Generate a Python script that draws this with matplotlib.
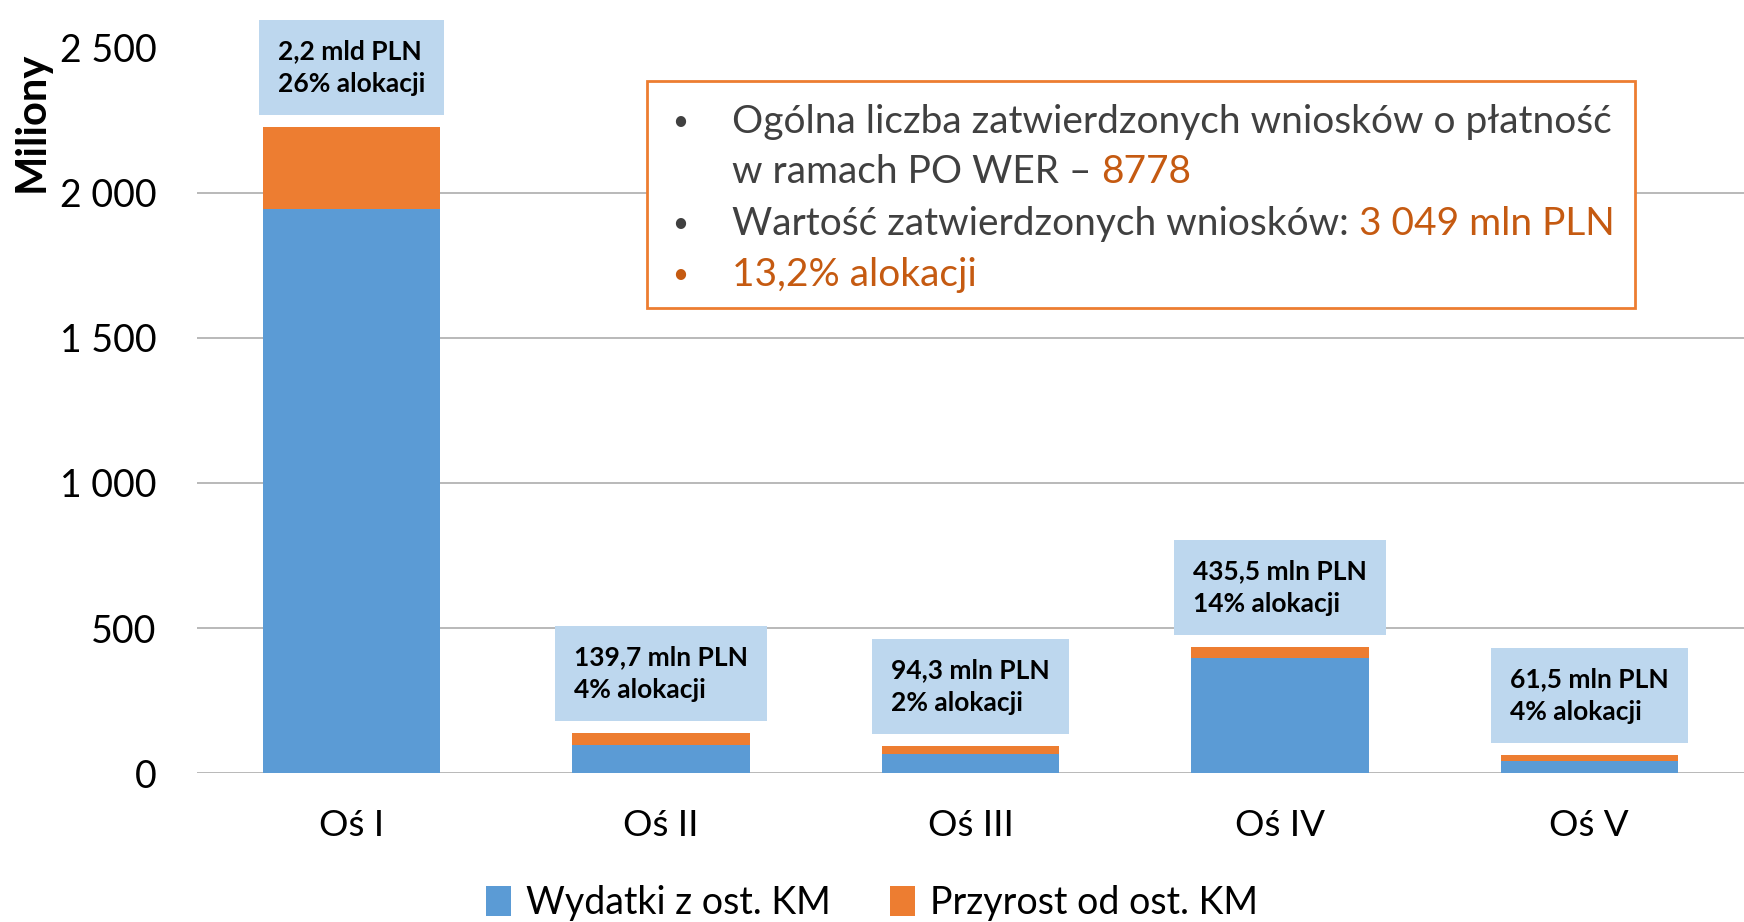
import matplotlib
matplotlib.use("Agg")
import matplotlib.pyplot as plt
from matplotlib.patches import Rectangle

plt.rcParams["font.family"] = ["Lato", "DejaVu Sans"]

# data (millions PLN)
categories = ["Oś I", "Oś II", "Oś III", "Oś IV", "Oś V"]
wydatki = [1944, 97, 68, 398, 41]
przyrost = [282, 43, 26, 38, 21]
box_labels = [
    "2,2 mld PLN\n26% alokacji",
    "139,7 mln PLN\n4% alokacji",
    "94,3 mln PLN\n2% alokacji",
    "435,5 mln PLN\n14% alokacji",
    "61,5 mln PLN\n4% alokacji",
]
y_ticks = [0, 500, 1000, 1500, 2000, 2500]
y_tick_labels = ["0", "500", "1 000", "1 500", "2 000", "2 500"]
series_names = ["Wydatki z ost. KM", "Przyrost od ost. KM"]

BLUE = "#5B9BD5"
ORANGE = "#ED7D31"
DARK_ORANGE = "#C55A11"
BOX_FILL = "#BDD7EE"
TEXT_GRAY = "#404040"

W, H = 1744, 922
fig = plt.figure(figsize=(W / 100, H / 100), dpi=100)
ax = fig.add_axes([197 / W, 1 - 773.3 / H, 1 - 197 / W, (773.3 - 47.5) / H])

x = list(range(len(categories)))
totals = [a + b for a, b in zip(wydatki, przyrost)]
b1 = ax.bar(x, wydatki, width=0.573, color=BLUE, label=series_names[0], zorder=2)
b2 = ax.bar(x, przyrost, bottom=wydatki, width=0.573, color=ORANGE,
            label=series_names[1], zorder=2)

ax.set_xlim(-0.5, 4.5)
ax.set_ylim(0, 2500)
ax.set_yticks(y_ticks)
ax.set_yticklabels(y_tick_labels)
ax.set_xticks(x)
ax.set_xticklabels(categories)
ax.tick_params(axis="y", length=0, pad=29, labelsize=27)
ax.tick_params(axis="x", length=0, pad=26, labelsize=26.5)
ax.yaxis.grid(True, color="#ADADAD", linewidth=1.2, zorder=0)
ax.set_axisbelow(True)
for s in ax.spines.values():
    s.set_visible(False)

ax.set_ylabel("Miliony", fontsize=30, fontweight="bold", va="center")
ax.yaxis.set_label_coords(-0.107, 0.897)

# value boxes above bars
for xi, tot, lab in zip(x, totals, box_labels):
    ax.annotate(lab, xy=(xi, tot), xytext=(0, 31), textcoords="offset pixels",
                ha="center", va="bottom", multialignment="left",
                fontsize=19, fontweight="bold", color="black", linespacing=1.45,
                bbox=dict(boxstyle="square,pad=0.72", fc=BOX_FILL, ec="none"),
                annotation_clip=False, zorder=5)

# info box
fig.patches.append(Rectangle((647 / W, 1 - 308 / H), 988 / W, 227 / H,
                             transform=fig.transFigure, fill=True, fc="white",
                             ec=ORANGE, lw=2.0, zorder=6))
fs = 28
bx, tx = 680 / W, 732 / W
lines_y = [1 - 133 / H, 1 - 183 / H, 1 - 235 / H, 1 - 286 / H]
bullet_y = [y + 11 / H for y in lines_y]
fig.text(bx, bullet_y[0], "•", fontsize=20, color=TEXT_GRAY, ha="center",
         va="center", zorder=7)
fig.text(tx, lines_y[0], "Ogólna liczba zatwierdzonych wniosków o płatność",
         fontsize=fs, color=TEXT_GRAY, va="baseline", zorder=7)
t2 = fig.text(tx, lines_y[1], "w ramach PO WER – ", fontsize=fs, color=TEXT_GRAY,
              va="baseline", zorder=7)
fig.add_artist(plt.Annotation("8778", xy=(1, 0), xycoords=t2, va="bottom", ha="left",
                              fontsize=fs, color=DARK_ORANGE, zorder=7))
fig.text(bx, bullet_y[2], "•", fontsize=20, color=TEXT_GRAY, ha="center",
         va="center", zorder=7)
t3 = fig.text(tx, lines_y[2], "Wartość zatwierdzonych wniosków: ", fontsize=fs,
              color=TEXT_GRAY, va="baseline", zorder=7)
fig.add_artist(plt.Annotation("3 049 mln PLN", xy=(1, 0), xycoords=t3, va="bottom",
                              ha="left", fontsize=fs, color=DARK_ORANGE, zorder=7))
fig.text(bx, bullet_y[3], "•", fontsize=20, color=DARK_ORANGE, ha="center",
         va="center", zorder=7)
fig.text(tx, lines_y[3], "13,2% alokacji", fontsize=fs, color=DARK_ORANGE,
         va="baseline", zorder=7)

fig.legend(handles=[b1, b2], labels=series_names, loc="center",
           bbox_to_anchor=(0.5, 1 - 903 / H), ncol=2, frameon=False, fontsize=27,
           handlelength=0.65, handleheight=0.85, handletextpad=0.4, columnspacing=1.6)

fig.savefig("out.png", dpi=100)
